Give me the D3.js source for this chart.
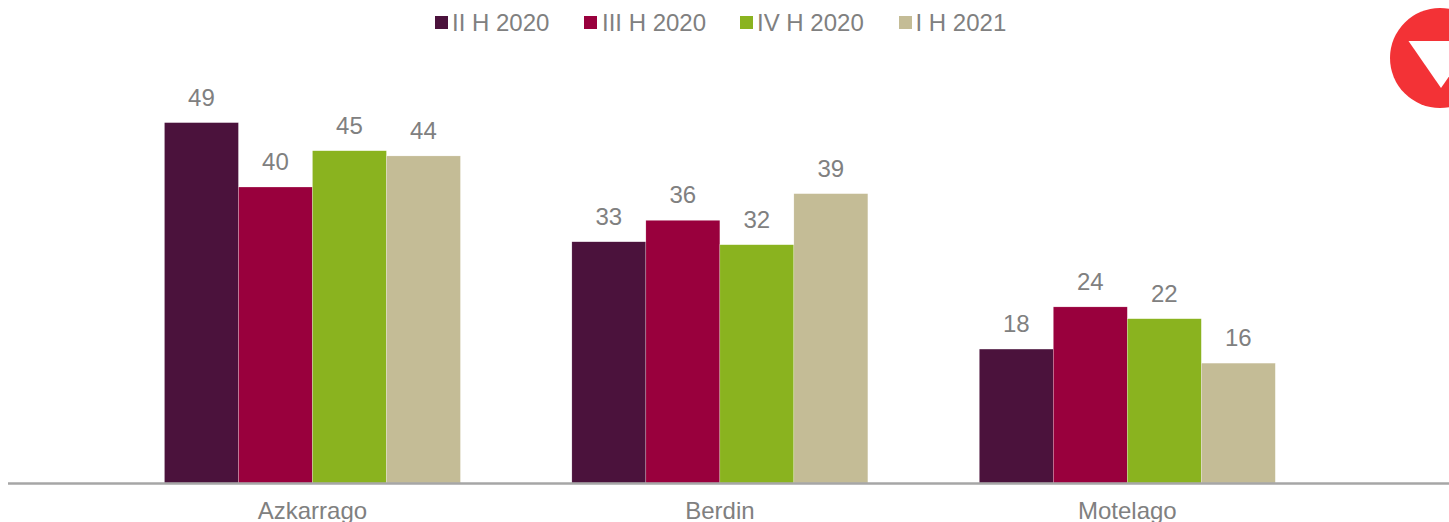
<!DOCTYPE html>
<html><head><meta charset="utf-8">
<script src="https://cdn.jsdelivr.net/npm/d3@7"></script>
<style>html,body{margin:0;padding:0;background:#fff;overflow:hidden}svg{display:block}text{font-family:"Liberation Sans",Arial,sans-serif;fill:#808080}</style>
</head><body><svg id="c" width="1449" height="522"></svg>
<script>
const categories = ["Azkarrago","Berdin","Motelago"];
const seriesNames = ["II H 2020","III H 2020","IV H 2020","I H 2021"];
const seriesColors = ["#4B123C","#99003D","#8AB31F","#C4BC96"];
const iiH2020 = [48.7,32.6,18.1];
const iiiH2020 = [40,35.5,23.8];
const ivH2020 = [44.9,32.2,22.2];
const iH2021 = [44.2,39.1,16.2];
const allSeries = [iiH2020,iiiH2020,ivH2020,iH2021];

const svg = d3.select("#c");
const baseY = 483;
const x = d3.scaleBand().domain(categories).range([108.75,1331]).paddingInner(0.2735).paddingOuter(0.1367);
const x1 = d3.scaleBand().domain(seriesNames).range([0,x.bandwidth()]);
const y = d3.scaleLinear().domain([0,60]).range([baseY,baseY-444]);

// logo
const logo = svg.append("g");
logo.append("circle").attr("cx",1440).attr("cy",58).attr("r",50).attr("fill","#F33236");
logo.append("path").attr("d","M1408.5,41L1441,88L1473.5,41Z").attr("fill","#fff");

// bars
seriesNames.forEach((s,i)=>{
  const g = svg.append("g");
  g.selectAll("rect").data(allSeries[i]).join("rect")
    .attr("x",(d,j)=>x(categories[j])+x1(s))
    .attr("y",d=>y(d))
    .attr("width",x1.bandwidth())
    .attr("height",d=>baseY-y(d))
    .attr("fill",seriesColors[i])
    .attr("stroke","#fff").attr("stroke-width",0.4).attr("stroke-opacity",0.6);
  g.selectAll("text").data(allSeries[i]).join("text")
    .attr("x",(d,j)=>x(categories[j])+x1(s)+x1.bandwidth()/2)
    .attr("y",d=>y(d)-17)
    .attr("text-anchor","middle").attr("font-size",24)
    .text(d=>d3.format(".0f")(d));
});

// axis
const axis = d3.axisBottom(x).tickSize(0).tickPadding(18);
const ag = svg.append("g").attr("transform",`translate(0,${baseY+1})`).call(axis);
ag.select(".domain").remove();
ag.selectAll("text").attr("font-size",24).attr("font-family",null).style("fill","#808080");
svg.append("line").attr("x1",8).attr("x2",1449).attr("y1",baseY+0.5).attr("y2",baseY+0.5).attr("stroke","#A6A6A6").attr("stroke-width",2.4);

// legend
const legendX = [435,584,740,899];
const legendTextX = [452,602,757,915.5];
seriesNames.forEach((s,i)=>{
  svg.append("rect").attr("x",legendX[i]).attr("y",16).attr("width",13).attr("height",13).attr("fill",seriesColors[i]);
  svg.append("text").attr("x",legendTextX[i]).attr("y",31).attr("font-size",24).text(s);
});
</script></body></html>
